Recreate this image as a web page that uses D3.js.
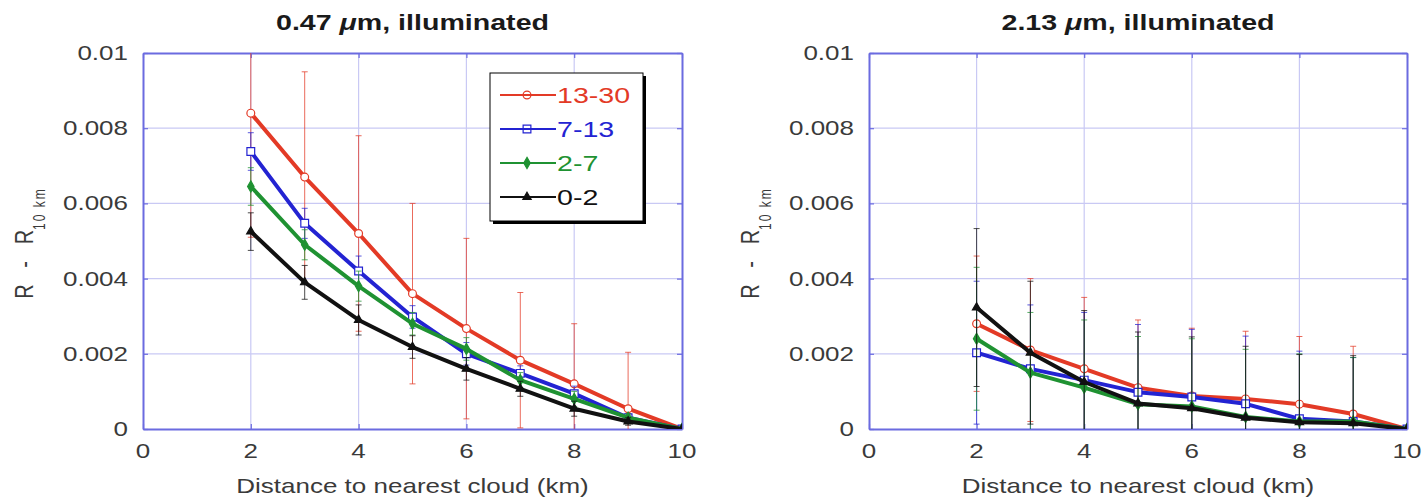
<!DOCTYPE html>
<html>
<head>
<meta charset="utf-8">
<script src="https://cdn.jsdelivr.net/npm/d3@7"></script>
<style>
  html, body { margin: 0; padding: 0; background: #fff; }
  svg { display: block; font-family: "Liberation Sans", Arial, Helvetica, sans-serif; }
</style>
</head>
<body>
<svg id="chart" width="1425" height="499"></svg>
<script>
// Distance bins (km) and axis ticks
const distance = [2, 3, 4, 5, 6, 7, 8, 9, 10];
const xTicks = [0, 2, 4, 6, 8, 10];
const yTicks = [0, 0.002, 0.004, 0.006, 0.008, 0.01];
const yTickLabels = ["0", "0.002", "0.004", "0.006", "0.008", "0.01"];
const seriesNames = ["13-30", "7-13", "2-7", "0-2"];
const panelWavelengths = ["0.47", "2.13"];

// 0.47 um: mean reflectance difference per cloud-size class
const vis_13_30 = [0.0084, 0.0067, 0.0052, 0.0036, 0.00267, 0.00183, 0.0012, 0.00054, 0];
const vis_7_13  = [0.00738, 0.00547, 0.0042, 0.00298, 0.0020, 0.00148, 0.00094, 0.0003, 0];
const vis_2_7   = [0.00645, 0.0049, 0.0038, 0.0028, 0.00213, 0.0013, 0.0008, 0.0003, 0];
const vis_0_2   = [0.00525, 0.0039, 0.0029, 0.00218, 0.0016, 0.00107, 0.00054, 0.0002, 0];
// 0.47 um: error bar half-widths
const visErr_13_30 = [0.0033, 0.0028, 0.0026, 0.0024, 0.0024, 0.0018, 0.0016, 0.0015, 0];
const visErr_7_13  = [0.0005, 0.0004, 0.0004, 0.0003, 0.0003, 0.0002, 0.0002, 0.0001, 0];
const visErr_2_7   = [0.0005, 0.0004, 0.0004, 0.0003, 0.0003, 0.0002, 0.0002, 0.0001, 0];
const visErr_0_2   = [0.0005, 0.00045, 0.0004, 0.0003, 0.0003, 0.0002, 0.0002, 0.0001, 0];

// 2.13 um: mean reflectance difference per cloud-size class
const swir_13_30 = [0.0028, 0.0021, 0.0016, 0.0011, 0.00088, 0.0008, 0.00066, 0.0004, 0];
const swir_7_13  = [0.00203, 0.0016, 0.0013, 0.00098, 0.00085, 0.00067, 0.00027, 0.0002, 0];
const swir_2_7   = [0.0024, 0.0015, 0.0011, 0.00066, 0.0006, 0.00032, 0.0002, 0.0002, 0];
const swir_0_2   = [0.00323, 0.00203, 0.00125, 0.00068, 0.00055, 0.0003, 0.00018, 0.00015, 0];
// 2.13 um: error bar half-widths
const swirErr_13_30 = [0.0018, 0.0019, 0.0019, 0.0018, 0.0018, 0.0018, 0.0018, 0.0018, 0];
const swirErr_7_13  = [0.0019, 0.0017, 0.0018, 0.0018, 0.0018, 0.0018, 0.0018, 0.0017, 0];
const swirErr_2_7   = [0.0019, 0.0016, 0.0018, 0.0018, 0.0018, 0.0018, 0.0018, 0.0017, 0];
const swirErr_0_2   = [0.0021, 0.0019, 0.0019, 0.0019, 0.0019, 0.0019, 0.0018, 0.0018, 0];

const colors = ["#e33a26", "#2323d2", "#1f9232", "#111111"];
const symbols = [d3.symbolCircle, d3.symbolSquare, d3.symbolDiamond, d3.symbolTriangle];
const symbolSizes = [48, 60, 36, 30];
const symbolFilled = [false, false, true, true];

const SX = 1.3; // horizontal glyph widening used for all text
const svg = d3.select("#chart");

function hText(g, x, y, str, size, anchor, fill, weight) {
  return g.append("text")
    .attr("transform", `translate(${x},${y}) scale(${SX},1)`)
    .attr("text-anchor", anchor)
    .attr("font-size", size)
    .attr("font-weight", weight || "normal")
    .attr("fill", fill)
    .text(str);
}

function drawPanel(p) {
  const g = svg.append("g");
  const x = d3.scaleLinear().domain([0, 10]).range([p.left, p.right]);
  const y = d3.scaleLinear().domain([0, 0.01]).range([429, 53]);
  const gridColor = "#c9c9f4";
  const axisColor = "#6b6be0";

  // grid
  g.append("g").selectAll("line").data(xTicks.slice(1, -1)).join("line")
    .attr("x1", d => x(d)).attr("x2", d => x(d))
    .attr("y1", y(0)).attr("y2", y(0.01))
    .attr("stroke", gridColor).attr("stroke-width", 1.2);
  g.append("g").selectAll("line").data(yTicks.slice(1, -1)).join("line")
    .attr("x1", x(0)).attr("x2", x(10))
    .attr("y1", d => y(d)).attr("y2", d => y(d))
    .attr("stroke", gridColor).attr("stroke-width", 1.2);

  // axes with inward ticks on all four sides
  const axStyle = sel => {
    sel.select(".domain").attr("stroke", axisColor).attr("stroke-width", 2);
    sel.selectAll(".tick line").attr("stroke", axisColor).attr("stroke-width", 1.2);
    sel.selectAll(".tick text").remove();
  };
  g.append("g").attr("transform", `translate(0,${y(0)})`)
    .call(d3.axisBottom(x).tickValues(xTicks).tickSizeInner(-5).tickSizeOuter(0)).call(axStyle);
  g.append("g").attr("transform", `translate(0,${y(0.01)})`)
    .call(d3.axisTop(x).tickValues(xTicks).tickSizeInner(-5).tickSizeOuter(0)).call(axStyle);
  g.append("g").attr("transform", `translate(${x(0)},0)`)
    .call(d3.axisLeft(y).tickValues(yTicks).tickSizeInner(-5).tickSizeOuter(0)).call(axStyle);
  g.append("g").attr("transform", `translate(${x(10)},0)`)
    .call(d3.axisRight(y).tickValues(yTicks).tickSizeInner(-5).tickSizeOuter(0)).call(axStyle);

  // tick labels
  xTicks.forEach(t => hText(g, x(t), 458, String(t), 20, "middle", "#3a3a3a"));
  yTicks.forEach((t, i) => hText(g, x(0) - 15, y(t) + 7, yTickLabels[i], 20, "end", "#3a3a3a"));

  // panel title with italic mu
  const tt = hText(g, (p.left + p.right) / 2, 30, "", 22, "middle", "#1a1a1a", "bold");
  tt.append("tspan").text(p.wavelength + " ");
  tt.append("tspan").attr("font-style", "italic").text("\u03bc");
  tt.append("tspan").text("m, illuminated");

  hText(g, (p.left + p.right) / 2, 493, "Distance to nearest cloud (km)", 20, "middle", "#3a3a3a");

  const yl = g.append("text")
    .attr("transform", `translate(${x(0) - 110},243) scale(${SX},1) rotate(-90)`)
    .attr("text-anchor", "middle")
    .attr("font-size", 20)
    .attr("fill", "#3a3a3a")
    .style("white-space", "pre");
  yl.append("tspan").text("R   -   R");
  yl.append("tspan").attr("font-size", 12).attr("dy", 9).attr("letter-spacing", 2).text("10 km");

  // data
  const clipId = "clip" + p.id;
  g.append("clipPath").attr("id", clipId).append("rect")
    .attr("x", x(0)).attr("y", y(0.01)).attr("width", x(10) - x(0)).attr("height", y(0) - y(0.01));
  const plot = g.append("g").attr("clip-path", `url(#${clipId})`);
  const line = d3.line().x(d => x(d[0])).y(d => y(d[1]));

  p.series.forEach((vals, s) => {
    const errs = p.errors[s];
    const pts = distance.map((d, i) => [d, vals[i], errs[i]]);
    const eb = plot.append("g").attr("stroke", colors[s]).attr("stroke-width", 1).attr("stroke-opacity", 0.75);
    pts.filter(d => d[2] > 0).forEach(d => {
      const cx = x(d[0]), yt = y(d[1] + d[2]), yb = y(d[1] - d[2]);
      eb.append("line").attr("x1", cx).attr("x2", cx).attr("y1", yt).attr("y2", yb);
      eb.append("line").attr("x1", cx - 3).attr("x2", cx + 3).attr("y1", yt).attr("y2", yt);
      eb.append("line").attr("x1", cx - 3).attr("x2", cx + 3).attr("y1", yb).attr("y2", yb);
    });
    plot.append("path").datum(pts).attr("d", line)
      .attr("fill", "none").attr("stroke", colors[s]).attr("stroke-width", 4)
      .attr("stroke-linejoin", "round");
    plot.append("g").selectAll("path").data(pts).join("path")
      .attr("transform", d => `translate(${x(d[0])},${y(d[1])})`)
      .attr("d", d3.symbol(symbols[s], symbolSizes[s]))
      .attr("fill", symbolFilled[s] ? colors[s] : "#fff")
      .attr("stroke", colors[s]).attr("stroke-width", 1.2);
  });

  if (p.legend) {
    const lg = g.append("g");
    const bx = 490, by = 73, bw = 153, bh = 148;
    lg.append("rect").attr("x", bx + 3).attr("y", by + 3).attr("width", bw).attr("height", bh).attr("fill", "#000");
    lg.append("rect").attr("x", bx).attr("y", by).attr("width", bw).attr("height", bh)
      .attr("fill", "#fff").attr("stroke", "#000").attr("stroke-width", 1);
    seriesNames.forEach((name, s) => {
      const ry = 95 + s * 34;
      lg.append("line").attr("x1", 500).attr("x2", 556).attr("y1", ry).attr("y2", ry)
        .attr("stroke", colors[s]).attr("stroke-width", 2.2);
      lg.append("path").attr("transform", `translate(527,${ry})`)
        .attr("d", d3.symbol(symbols[s], symbolSizes[s]))
        .attr("fill", symbolFilled[s] ? colors[s] : "none")
        .attr("stroke", colors[s]).attr("stroke-width", 1.2);
      hText(lg, 557, ry + 8, name, 22, "start", colors[s]);
    });
  }
}

drawPanel({
  id: "vis", left: 143, right: 682, wavelength: panelWavelengths[0], legend: true,
  series: [vis_13_30, vis_7_13, vis_2_7, vis_0_2],
  errors: [visErr_13_30, visErr_7_13, visErr_2_7, visErr_0_2]
});
drawPanel({
  id: "swir", left: 869, right: 1407, wavelength: panelWavelengths[1], legend: false,
  series: [swir_13_30, swir_7_13, swir_2_7, swir_0_2],
  errors: [swirErr_13_30, swirErr_7_13, swirErr_2_7, swirErr_0_2]
});
</script>
</body>
</html>
